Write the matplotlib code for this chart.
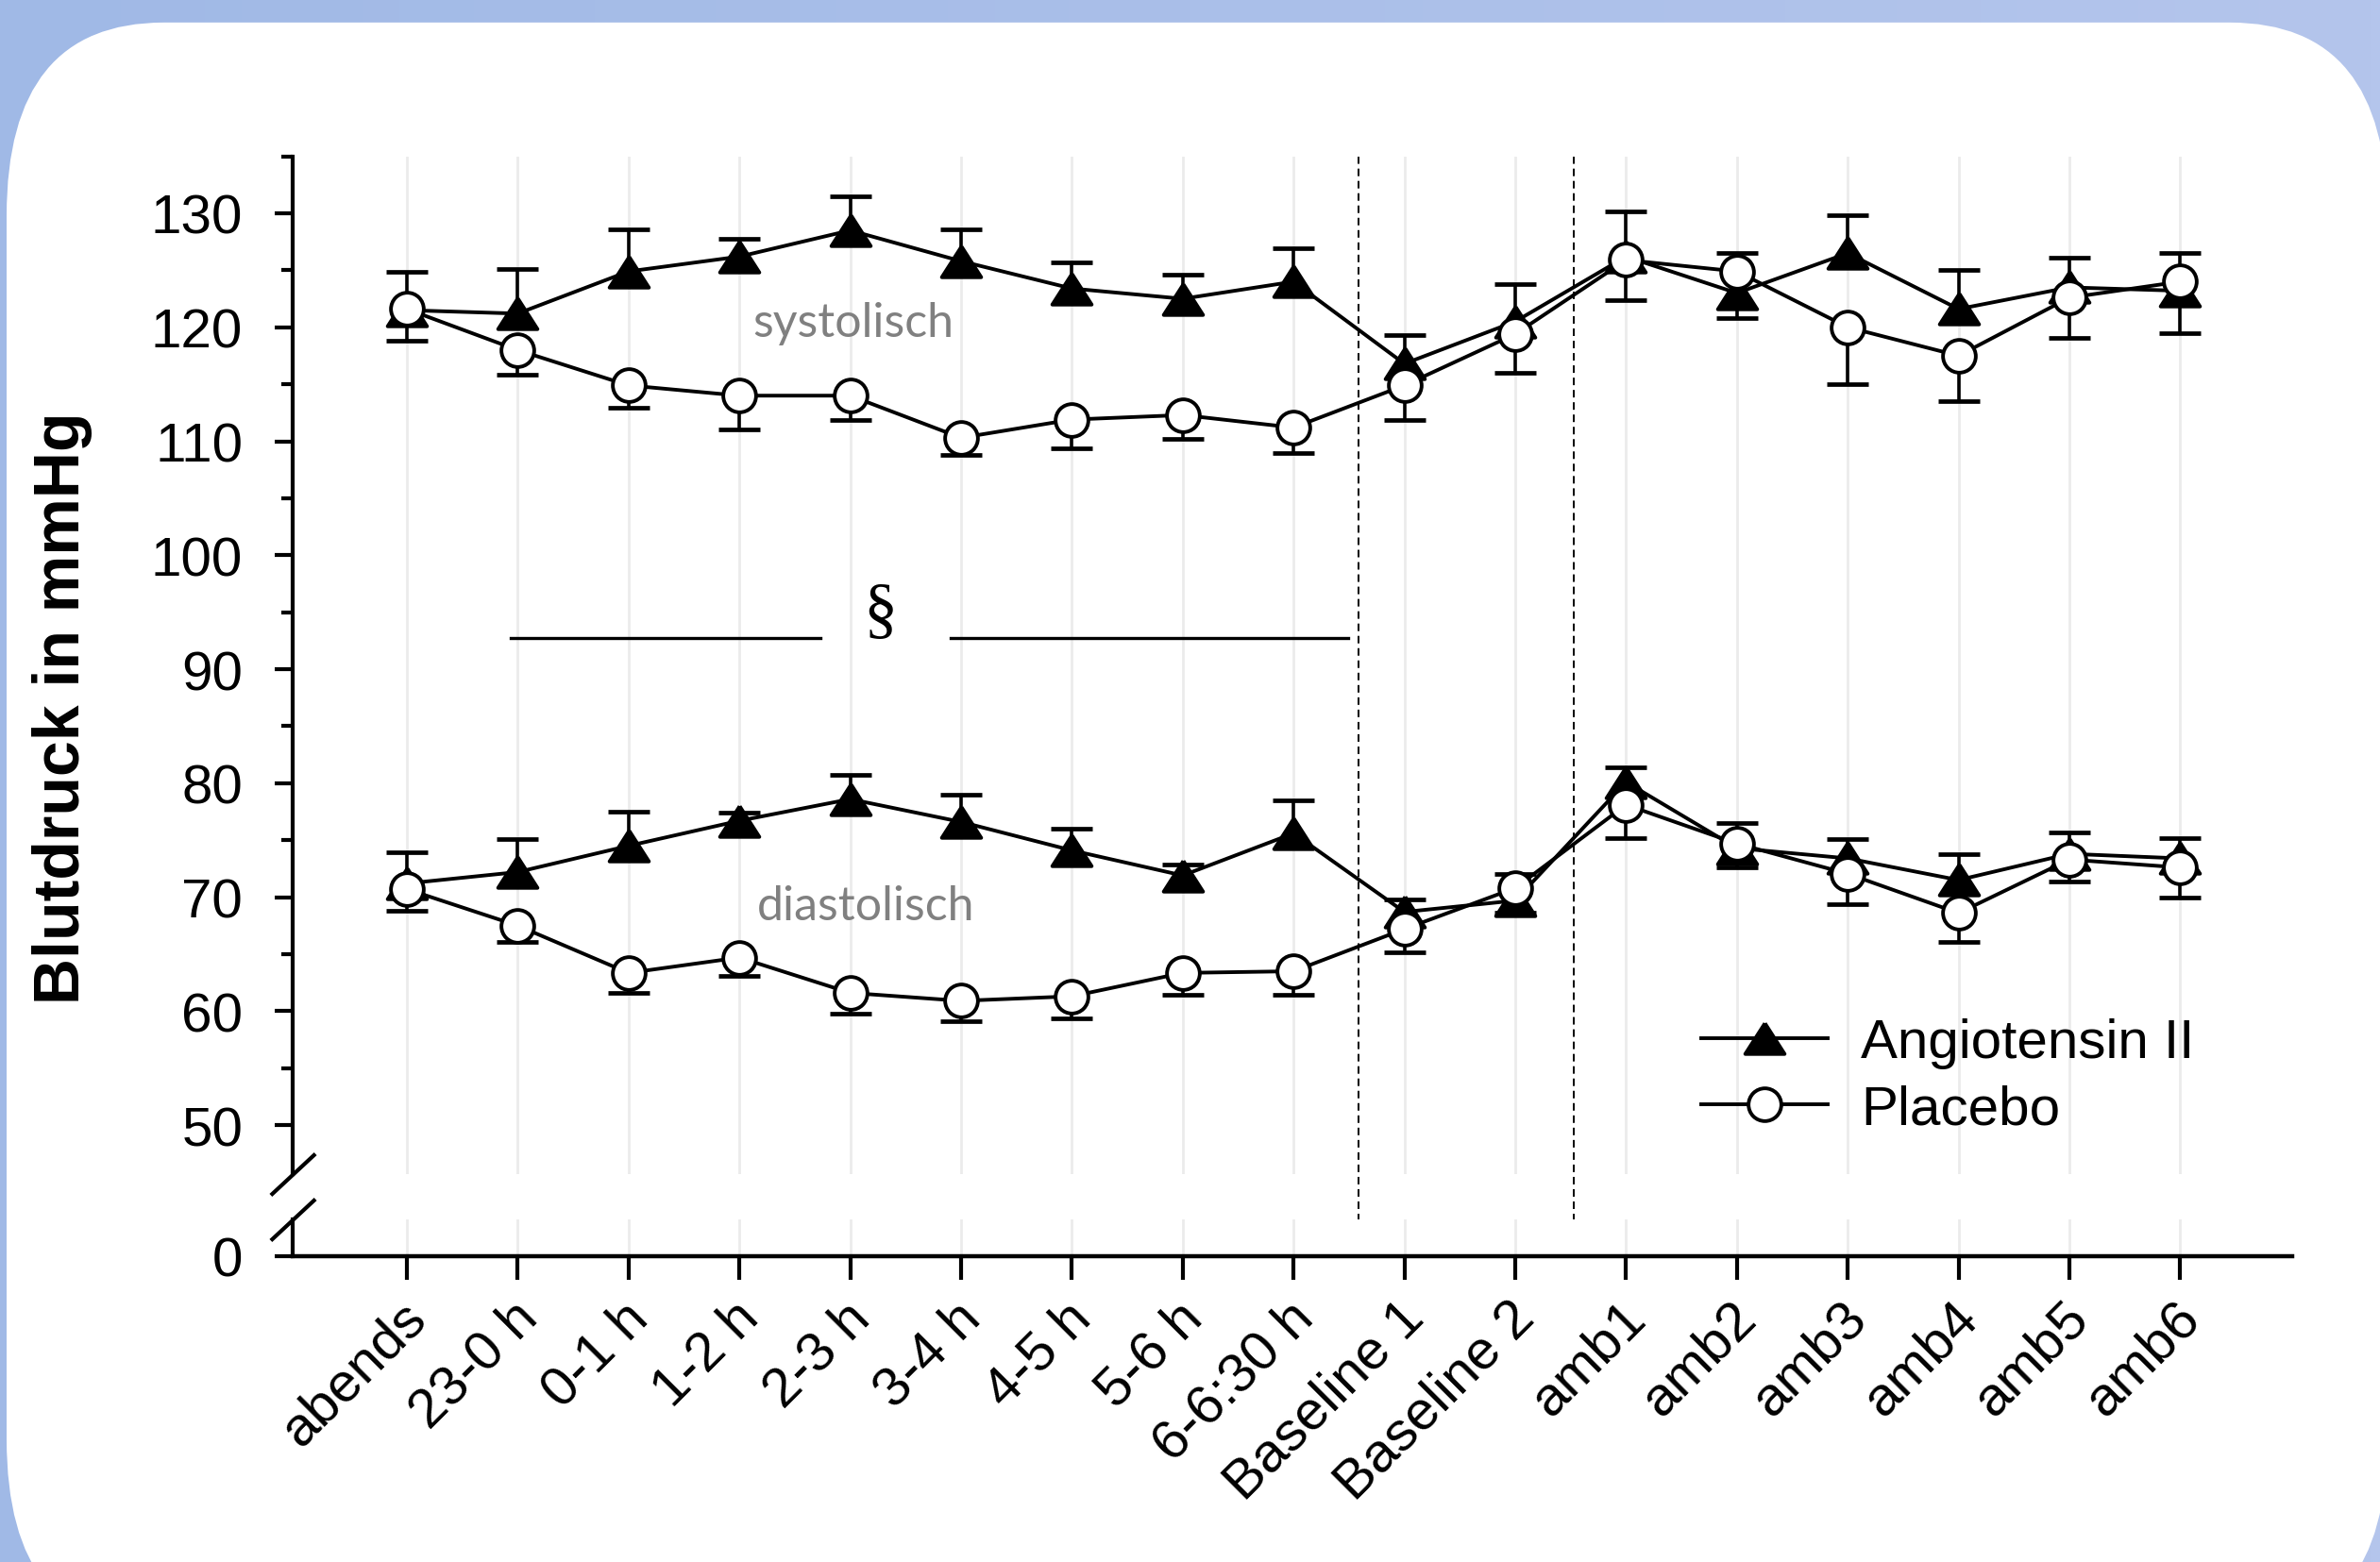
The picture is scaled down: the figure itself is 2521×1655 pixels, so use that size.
import numpy as np
import matplotlib
matplotlib.use('Agg')
import matplotlib.pyplot as plt
from matplotlib.patches import FancyBboxPatch
from matplotlib.colors import LinearSegmentedColormap
from matplotlib.transforms import ScaledTranslation

plt.rcParams['font.family'] = ['Liberation Sans', 'DejaVu Sans']

# Daten
categories = ['abends', '23-0 h', '0-1 h', '1-2 h', '2-3 h', '3-4 h', '4-5 h', '5-6 h', '6-6:30 h',
              'Baseline 1', 'Baseline 2', 'amb1', 'amb2', 'amb3', 'amb4', 'amb5', 'amb6']

ang_sys = [121.5, 121.2, 124.9, 126.2, 128.5, 125.8, 123.4, 122.5, 124.0,
           116.8, 120.5, 126.2, 123.0, 126.5, 121.6, 123.5, 123.2]
ang_sys_err = [3.4, 3.9, 3.7, 1.6, 3.0, 2.8, 2.3, 2.1, 2.9,
               2.5, 3.3, 4.0, 3.5, 3.3, 3.4, 2.6, 3.3]
pla_sys = [121.6, 118.0, 114.9, 114.0, 114.0, 110.3, 111.9, 112.3, 111.2,
           114.9, 119.4, 125.9, 124.9, 120.0, 117.5, 122.6, 124.0]
pla_sys_err = [2.75, 2.2, 2.0, 3.0, 2.1, 1.5, 2.5, 2.1, 2.2,
               3.0, 3.4, 3.5, 4.1, 5.0, 4.0, 3.5, 4.5]

ang_dia = [71.2, 72.2, 74.5, 76.7, 78.6, 76.6, 74.1, 71.9, 75.6,
           68.7, 69.7, 80.1, 74.3, 73.4, 71.5, 73.8, 73.4]
ang_dia_err = [2.7, 2.9, 3.0, 0.7, 2.15, 2.4, 1.9, 1.0, 2.9,
               1.1, 2.35, 1.3, 2.2, 1.7, 2.3, 1.85, 1.8]
pla_dia = [70.7, 67.5, 63.35, 64.7, 61.6, 60.9, 61.3, 63.35, 63.5,
           67.2, 70.8, 78.1, 74.7, 72.05, 68.6, 73.3, 72.6]
pla_dia_err = [1.9, 1.4, 1.75, 1.6, 1.8, 1.8, 1.9, 1.95, 2.1,
               2.0, 2.2, 2.9, 2.1, 2.65, 2.5, 1.9, 2.6]

phase_breaks = [8.59, 10.53]
sig_y = 92.7
sig_segments = [(0.94, 3.73), (4.91, 8.49)]

W, H = 2521, 1656
fig = plt.figure(figsize=(W / 200, H / 200), dpi=200)

# Hintergrund
bg = fig.add_axes([0, 0, 1, 1], zorder=-10)
cmap = LinearSegmentedColormap.from_list('bg', ['#a0b9e6', '#b4c5ec'])
bg.imshow(np.linspace(0, 1, 256).reshape(1, -1), cmap=cmap, aspect='auto',
          extent=[0, 1, 0, 1])
bg.add_patch(FancyBboxPatch((7 / W, -0.045), 1.003 - 7 / W, 0.985 + 0.045,
                            boxstyle='round,pad=0,rounding_size=0.066',
                            mutation_aspect=1.87, transform=bg.transAxes,
                            fc='white', ec='none'))
bg.set_xlim(0, 1)
bg.set_ylim(0, 1)
bg.set_axis_off()

x = np.arange(len(categories))

ax = fig.add_axes([310 / W, 1 - 1245 / H, (2428 - 310) / W, (1245 - 166.6) / H])
ax0 = fig.add_axes([310 / W, 1 - 1332 / H, (2428 - 310) / W, 39 / H], sharex=ax)

ax.set_xlim(-1.03, 17.01)
ax.set_ylim(45.7, 135)
ax0.set_ylim(0, 3.23)

for a in (ax, ax0):
    a.spines['top'].set_visible(False)
    a.spines['right'].set_visible(False)
    a.spines['left'].set_linewidth(1.5)
    a.grid(axis='x', color='#ebebeb', lw=1.0)
    a.set_axisbelow(True)
ax.spines['bottom'].set_visible(False)
ax0.spines['bottom'].set_linewidth(1.6)

ax.set_yticks(range(50, 131, 10))
ax.set_yticks(range(55, 136, 10), minor=True)
ax.tick_params(axis='y', which='major', length=7, width=1.5, labelsize=21, pad=12)
ax.tick_params(axis='y', which='minor', length=4.3, width=1.5)
ax.tick_params(axis='x', which='both', bottom=False, labelbottom=False)

ax0.set_yticks([0])
ax0.tick_params(axis='y', length=7, width=1.5, labelsize=21, pad=12)
ax0.set_xticks(x)
ax0.set_xticklabels(categories, rotation=45, ha='right', va='top',
                    rotation_mode='anchor', fontsize=21)
ax0.tick_params(axis='x', length=9, width=1.5, pad=4.5)
shift = ScaledTranslation(-2.5 / 72, 0, fig.dpi_scale_trans)
for lab in ax0.get_xticklabels():
    lab.set_transform(lab.get_transform() + shift)

# Achsenbruch
slash = [(-1, -0.93), (1, 0.93)]
kw = dict(marker=slash, markersize=17, linestyle='none', color='k', mec='k',
          mew=1.5, clip_on=False)
ax.plot([0], [0], transform=ax.transAxes, **kw)
ax0.plot([0], [1], transform=ax0.transAxes, **kw)

for xb in phase_breaks:
    ax.axvline(xb, ymin=-50 / 1078.4, ymax=1, color='k', lw=0.7,
               ls=(0, (4.1, 2.6)), clip_on=False)

tri = [(0, 0.78), (-1, -0.78), (1, -0.78), (0, 0.78)]


def draw(y, err, up, marker, ms, mfc, z):
    y = np.asarray(y)
    err = np.asarray(err)
    end = y + err if up else y - err
    ax.vlines(x, y, end, color='k', lw=1.3, zorder=z)
    ax.plot(x, end, ls='none', marker='_', ms=16, mew=1.7, color='k', zorder=z)
    line, = ax.plot(x, y, color='k', lw=1.4, marker=marker, ms=ms, mfc=mfc,
                    mec='k', mew=1.4, zorder=z + 0.5)
    return line


la = draw(ang_sys, ang_sys_err, True, tri, 15, 'k', 3)
draw(ang_dia, ang_dia_err, True, tri, 15, 'k', 3)
lp = draw(pla_sys, pla_sys_err, False, 'o', 12.5, 'white', 4)
draw(pla_dia, pla_dia_err, False, 'o', 12.5, 'white', 4)

ax.text(4.03, 119.23, 'systolisch', family='Lato', fontsize=18, color='#808080',
        ha='center', va='baseline')
ax.text(4.14, 68.05, 'diastolisch', family='Lato', fontsize=18, color='#808080',
        ha='center', va='baseline')

ax.text(4.27, 94.97, '§', family='Liberation Serif', fontsize=26, ha='center', va='center')
for x0, x1 in sig_segments:
    ax.plot([x0, x1], [sig_y, sig_y], color='k', lw=1.2)

fig.text(66 / W, 1 - 750 / H, 'Blutdruck in mmHg', rotation=90, ha='center',
         va='center', fontsize=24.5, fontweight='bold')

fig.legend([la, lp], ['Angiotensin II', 'Placebo'], loc='upper left',
           bbox_to_anchor=(1802 / W, 1 - 1079 / H), frameon=False, fontsize=21,
           handlelength=2.3, handletextpad=0.6, labelspacing=0.28,
           borderpad=0, borderaxespad=0)

fig.savefig('out.png', dpi=200)
